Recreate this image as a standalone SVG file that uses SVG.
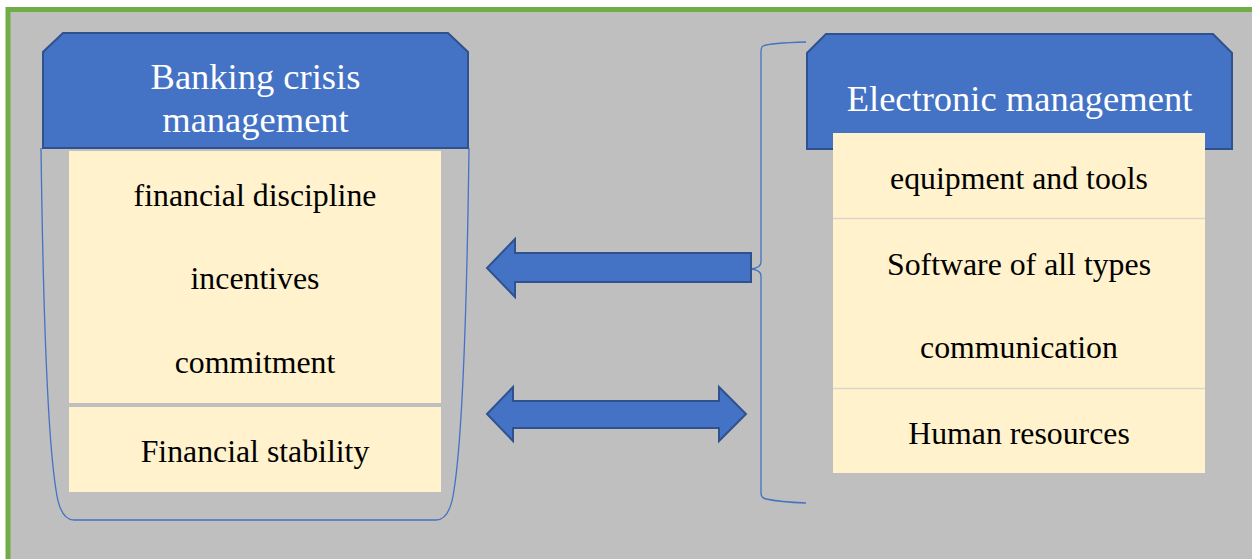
<svg xmlns="http://www.w3.org/2000/svg" width="1252" height="559" viewBox="0 0 1252 559">
<style>
.hdr{fill:#4472C4;stroke:#2F528F;stroke-width:2}
.cell{fill:#FFF2CC}
.sep{stroke:#DCD6C6;stroke-width:1.5}
.ht{font-family:"Liberation Serif","Times New Roman",serif;font-size:36.5px;fill:#FFFFFF;text-anchor:middle}
.bt{font-family:"Liberation Serif","Times New Roman",serif;font-size:31.8px;fill:#000000;text-anchor:middle}
.brace{fill:none;stroke:#4472C4;stroke-width:1.3}
.arrow{fill:#4472C4;stroke:#2F528F;stroke-width:2;stroke-linejoin:miter}
</style>
<rect x="0" y="0" width="1252" height="559" fill="#FFFFFF"/>
<rect x="8" y="9.5" width="1260" height="560" fill="#BFBFBF" stroke="#70AD47" stroke-width="5"/>

<g id="connectors">
  <path class="brace" d="M41 148 C43 300 48 440 56 490 Q 60 520 74 520 L 436 520 Q 450 520 454 490 C 462 440 467 300 469 148"/>
  <path class="brace" d="M806 42 Q 770 43 763 46 Q 761 47 761 52 L 761 262 Q 761 268 751 269 Q 761 270 761 276 L 761 493 Q 761 498 766 499 Q 780 502 806 503"/>
  <path id="arrow-left" class="arrow" d="M751 253 L515 253 L515 239 L487 268 L515 297 L515 282 L751 282 Z"/>
  <path id="arrow-both" class="arrow" d="M487 414 L513 387 L513 401 L719 401 L719 387 L746 414 L719 441 L719 428 L513 428 L513 441 Z"/>
</g>

<g id="banking">
  <path class="hdr" d="M63 33 L448 33 L468 52 L468 148 L43 148 L43 52 Z"/>
  <text class="ht" x="255.5" y="89">Banking crisis</text>
  <text class="ht" x="255.5" y="132">management</text>
</g>
<g id="financial-discipline">
  <rect class="cell" x="69" y="151" width="372" height="84"/>
  <text class="bt" x="255" y="206">financial discipline</text>
</g>
<g id="incentives">
  <rect class="cell" x="69" y="235" width="372" height="84"/>
  <text class="bt" x="255" y="289">incentives</text>
</g>
<g id="commitment">
  <rect class="cell" x="69" y="319" width="372" height="84"/>
  <text class="bt" x="255" y="373">commitment</text>
</g>
<g id="financial-stability">
  <rect class="cell" x="69" y="407" width="372" height="85"/>
  <text class="bt" x="255" y="462">Financial stability</text>
</g>

<g id="electronic">
  <path class="hdr" d="M826 34 L1213 34 L1232 53 L1232 149 L807 149 L807 53 Z"/>
  <text class="ht" x="1019.5" y="111">Electronic management</text>
</g>
<g id="equipment">
  <rect class="cell" x="833" y="133" width="372" height="85"/>
  <text class="bt" x="1019" y="189">equipment and tools</text>
</g>
<g id="software">
  <rect class="cell" x="833" y="218" width="372" height="85"/>
  <line class="sep" x1="833" y1="218.5" x2="1205" y2="218.5"/>
  <text class="bt" x="1019" y="275">Software of all types</text>
</g>
<g id="communication">
  <rect class="cell" x="833" y="303" width="372" height="85"/>
  <text class="bt" x="1019" y="358">communication</text>
</g>
<g id="human">
  <rect class="cell" x="833" y="388" width="372" height="85"/>
  <line class="sep" x1="833" y1="388.5" x2="1205" y2="388.5"/>
  <text class="bt" x="1019" y="444">Human resources</text>
</g>
</svg>
